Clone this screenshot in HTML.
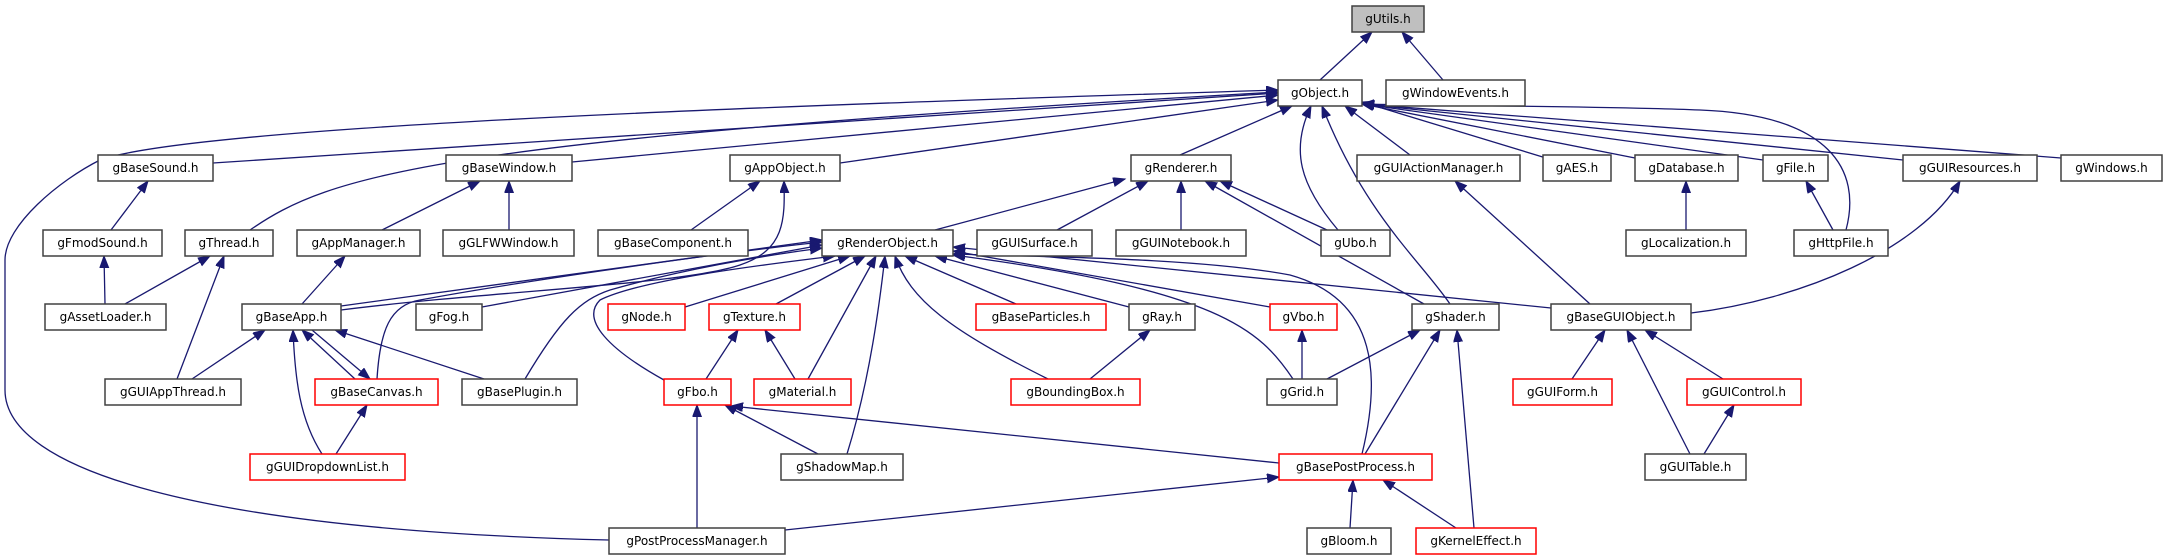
<!DOCTYPE html>
<html><head><meta charset="utf-8"><style>
html,body{margin:0;padding:0;background:#fff;}
svg{display:block}
text{font-family:"DejaVu Sans","Liberation Sans",sans-serif;font-size:12px;fill:#000;text-anchor:middle}
.b{fill:#fff;stroke:#404040;stroke-width:1.5}
.r{fill:#fff;stroke:#ff0000;stroke-width:1.5}
.e path,.e line{stroke:#191970;stroke-width:1.3;fill:none;marker-end:url(#a)}
</style></head><body>
<svg width="2168" height="560" viewBox="0 0 2168 560" xmlns="http://www.w3.org/2000/svg">
<defs><marker id="a" markerUnits="userSpaceOnUse" markerWidth="14" markerHeight="10" refX="12" refY="4.5" orient="auto"><polygon points="0,0 12,4.5 0,9" fill="#191970" stroke="#191970"/></marker></defs>
<g class="e">
<line x1="1320" y1="80" x2="1372" y2="32"/>
<line x1="1443" y1="80" x2="1402" y2="32"/>
<line x1="213" y1="163" x2="1278" y2="93"/>
<line x1="572" y1="162" x2="1278" y2="95"/>
<line x1="840" y1="163" x2="1278" y2="100"/>
<path d="M250 230 C330 175 430 140 1278 92"/>
<path d="M609 540 C200 530 5 470 5 390 L5 260 C5 225 60 180 100 160 C200 125 800 105 1278 90"/>
<line x1="1180" y1="155" x2="1292" y2="106"/>
<path d="M1338 230 C1300 185 1290 150 1311 106"/>
<path d="M1450 304 C1420 260 1365 215 1322 106"/>
<line x1="1410" y1="155" x2="1345" y2="106"/>
<line x1="1546" y1="158" x2="1362" y2="102"/>
<line x1="1635" y1="158" x2="1362" y2="104"/>
<line x1="1763" y1="160" x2="1362" y2="104"/>
<line x1="1903" y1="160" x2="1362" y2="104"/>
<line x1="2061" y1="158" x2="1362" y2="104"/>
<path d="M1846 230 C1862 170 1830 115 1700 110 C1600 106 1450 106 1362 104"/>
<line x1="111" y1="230" x2="148" y2="181"/>
<line x1="382" y1="230" x2="480" y2="181"/>
<line x1="509" y1="230" x2="509" y2="181"/>
<line x1="691" y1="230" x2="760" y2="181"/>
<path d="M341 310 C500 290 680 285 740 265 C785 250 785 220 784 181"/>
<line x1="935" y1="230" x2="1125" y2="179"/>
<line x1="1057" y1="230" x2="1148" y2="181"/>
<line x1="1181" y1="230" x2="1181" y2="181"/>
<line x1="1327" y1="230" x2="1220" y2="181"/>
<line x1="1424" y1="304" x2="1205" y2="181"/>
<line x1="1590" y1="304" x2="1455" y2="181"/>
<line x1="1686" y1="230" x2="1686" y2="181"/>
<line x1="1833" y1="230" x2="1806" y2="181"/>
<path d="M1691 313 C1800 300 1920 250 1960 181"/>
<line x1="105" y1="304" x2="104" y2="256"/>
<line x1="125" y1="304" x2="210" y2="256"/>
<line x1="177" y1="379" x2="224" y2="256"/>
<line x1="302" y1="304" x2="345" y2="256"/>
<line x1="192" y1="379" x2="265" y2="330"/>
<line x1="341" y1="306" x2="822" y2="240"/>
<path d="M377 379 C380 330 390 305 420 300 C500 285 700 255 822 242"/>
<line x1="482" y1="307" x2="822" y2="245"/>
<path d="M525 379 C560 320 580 300 610 290 C680 270 760 256 822 248"/>
<line x1="685" y1="307" x2="850" y2="256"/>
<path d="M664 380 C610 350 580 320 600 300 C640 280 760 265 835 256"/>
<line x1="776" y1="304" x2="865" y2="256"/>
<line x1="808" y1="379" x2="876" y2="256"/>
<path d="M847 454 C870 380 880 300 885 256"/>
<path d="M1048 379 C950 330 910 300 895 256"/>
<line x1="1016" y1="304" x2="905" y2="256"/>
<line x1="1129" y1="307" x2="935" y2="256"/>
<path d="M1293 379 C1260 330 1220 290 953 255"/>
<line x1="1270" y1="307" x2="953" y2="251"/>
<path d="M1362 454 C1380 380 1380 300 1290 275 C1200 258 1050 257 953 254"/>
<line x1="1551" y1="308" x2="953" y2="247"/>
<line x1="355" y1="379" x2="302" y2="330"/>
<line x1="312" y1="330" x2="370" y2="379"/>
<line x1="484" y1="379" x2="335" y2="330"/>
<path d="M322 454 C300 420 295 380 293 330"/>
<line x1="336" y1="454" x2="367" y2="405"/>
<line x1="706" y1="379" x2="738" y2="330"/>
<line x1="795" y1="379" x2="765" y2="330"/>
<line x1="818" y1="454" x2="725" y2="405"/>
<line x1="1279" y1="463" x2="731" y2="406"/>
<line x1="697" y1="528" x2="697" y2="405"/>
<line x1="785" y1="530" x2="1279" y2="477"/>
<line x1="1090" y1="379" x2="1150" y2="330"/>
<line x1="1302" y1="379" x2="1302" y2="330"/>
<line x1="1327" y1="379" x2="1420" y2="330"/>
<line x1="1365" y1="454" x2="1440" y2="330"/>
<line x1="1474" y1="528" x2="1457" y2="330"/>
<line x1="1350" y1="528" x2="1353" y2="480"/>
<line x1="1456" y1="528" x2="1383" y2="480"/>
<line x1="1572" y1="379" x2="1605" y2="330"/>
<line x1="1690" y1="454" x2="1627" y2="330"/>
<line x1="1723" y1="379" x2="1645" y2="330"/>
<line x1="1704" y1="454" x2="1734" y2="405"/>
</g>
<g>
<rect x="1352" y="6" width="72" height="26" fill="#bfbfbf" stroke="#404040" stroke-width="1.5"/><text x="1388" y="23">gUtils.h</text>
<rect class="b" x="1278" y="80" width="84" height="26"/><text x="1320" y="97">gObject.h</text>
<rect class="b" x="1386" y="80" width="139" height="26"/><text x="1455.5" y="97">gWindowEvents.h</text>

<rect class="b" x="98" y="155" width="115" height="26"/><text x="155.5" y="172">gBaseSound.h</text>
<rect class="b" x="446" y="155" width="126" height="26"/><text x="509" y="172">gBaseWindow.h</text>
<rect class="b" x="730" y="155" width="110" height="26"/><text x="785" y="172">gAppObject.h</text>
<rect class="b" x="1131" y="155" width="100" height="26"/><text x="1181" y="172">gRenderer.h</text>
<rect class="b" x="1357" y="155" width="163" height="26"/><text x="1438.5" y="172">gGUIActionManager.h</text>
<rect class="b" x="1543" y="155" width="68" height="26"/><text x="1577" y="172">gAES.h</text>
<rect class="b" x="1635" y="155" width="103" height="26"/><text x="1686.5" y="172">gDatabase.h</text>
<rect class="b" x="1763" y="155" width="65" height="26"/><text x="1795.5" y="172">gFile.h</text>
<rect class="b" x="1903" y="155" width="134" height="26"/><text x="1970" y="172">gGUIResources.h</text>
<rect class="b" x="2061" y="155" width="101" height="26"/><text x="2111.5" y="172">gWindows.h</text>

<rect class="b" x="43" y="230" width="119" height="26"/><text x="102.5" y="247">gFmodSound.h</text>
<rect class="b" x="185" y="230" width="88" height="26"/><text x="229" y="247">gThread.h</text>
<rect class="b" x="297" y="230" width="123" height="26"/><text x="358.5" y="247">gAppManager.h</text>
<rect class="b" x="443" y="230" width="131" height="26"/><text x="508.5" y="247">gGLFWWindow.h</text>
<rect class="b" x="598" y="230" width="150" height="26"/><text x="673" y="247">gBaseComponent.h</text>
<rect class="b" x="822" y="230" width="131" height="26"/><text x="887.5" y="247">gRenderObject.h</text>
<rect class="b" x="977" y="230" width="115" height="26"/><text x="1034.5" y="247">gGUISurface.h</text>
<rect class="b" x="1116" y="230" width="130" height="26"/><text x="1181" y="247">gGUINotebook.h</text>
<rect class="b" x="1321" y="230" width="69" height="26"/><text x="1355.5" y="247">gUbo.h</text>
<rect class="b" x="1626" y="230" width="120" height="26"/><text x="1686" y="247">gLocalization.h</text>
<rect class="b" x="1794" y="230" width="94" height="26"/><text x="1841" y="247">gHttpFile.h</text>

<rect class="b" x="45" y="304" width="121" height="26"/><text x="105.5" y="321">gAssetLoader.h</text>
<rect class="b" x="242" y="304" width="99" height="26"/><text x="291.5" y="321">gBaseApp.h</text>
<rect class="b" x="416" y="304" width="66" height="26"/><text x="449" y="321">gFog.h</text>
<rect class="r" x="608" y="304" width="77" height="26"/><text x="646.5" y="321">gNode.h</text>
<rect class="r" x="709" y="304" width="91" height="26"/><text x="754.5" y="321">gTexture.h</text>
<rect class="r" x="976" y="304" width="130" height="26"/><text x="1041" y="321">gBaseParticles.h</text>
<rect class="b" x="1129" y="304" width="66" height="26"/><text x="1162" y="321">gRay.h</text>
<rect class="r" x="1270" y="304" width="67" height="26"/><text x="1303.5" y="321">gVbo.h</text>
<rect class="b" x="1412" y="304" width="87" height="26"/><text x="1455.5" y="321">gShader.h</text>
<rect class="b" x="1551" y="304" width="140" height="26"/><text x="1621" y="321">gBaseGUIObject.h</text>

<rect class="b" x="105" y="379" width="136" height="26"/><text x="173" y="396">gGUIAppThread.h</text>
<rect class="r" x="315" y="379" width="123" height="26"/><text x="376.5" y="396">gBaseCanvas.h</text>
<rect class="b" x="462" y="379" width="115" height="26"/><text x="519.5" y="396">gBasePlugin.h</text>
<rect class="r" x="664" y="379" width="67" height="26"/><text x="697.5" y="396">gFbo.h</text>
<rect class="r" x="754" y="379" width="97" height="26"/><text x="802.5" y="396">gMaterial.h</text>
<rect class="r" x="1011" y="379" width="129" height="26"/><text x="1075.5" y="396">gBoundingBox.h</text>
<rect class="b" x="1267" y="379" width="70" height="26"/><text x="1302" y="396">gGrid.h</text>
<rect class="r" x="1513" y="379" width="99" height="26"/><text x="1562.5" y="396">gGUIForm.h</text>
<rect class="r" x="1687" y="379" width="114" height="26"/><text x="1744" y="396">gGUIControl.h</text>

<rect class="r" x="250" y="454" width="155" height="26"/><text x="327.5" y="471">gGUIDropdownList.h</text>
<rect class="b" x="781" y="454" width="122" height="26"/><text x="842" y="471">gShadowMap.h</text>
<rect class="r" x="1279" y="454" width="153" height="26"/><text x="1355.5" y="471">gBasePostProcess.h</text>
<rect class="b" x="1645" y="454" width="101" height="26"/><text x="1695.5" y="471">gGUITable.h</text>

<rect class="b" x="609" y="528" width="176" height="26"/><text x="697" y="545">gPostProcessManager.h</text>
<rect class="b" x="1307" y="528" width="84" height="26"/><text x="1349" y="545">gBloom.h</text>
<rect class="r" x="1416" y="528" width="120" height="26"/><text x="1476" y="545">gKernelEffect.h</text>
</g>
</svg>
</body></html>
